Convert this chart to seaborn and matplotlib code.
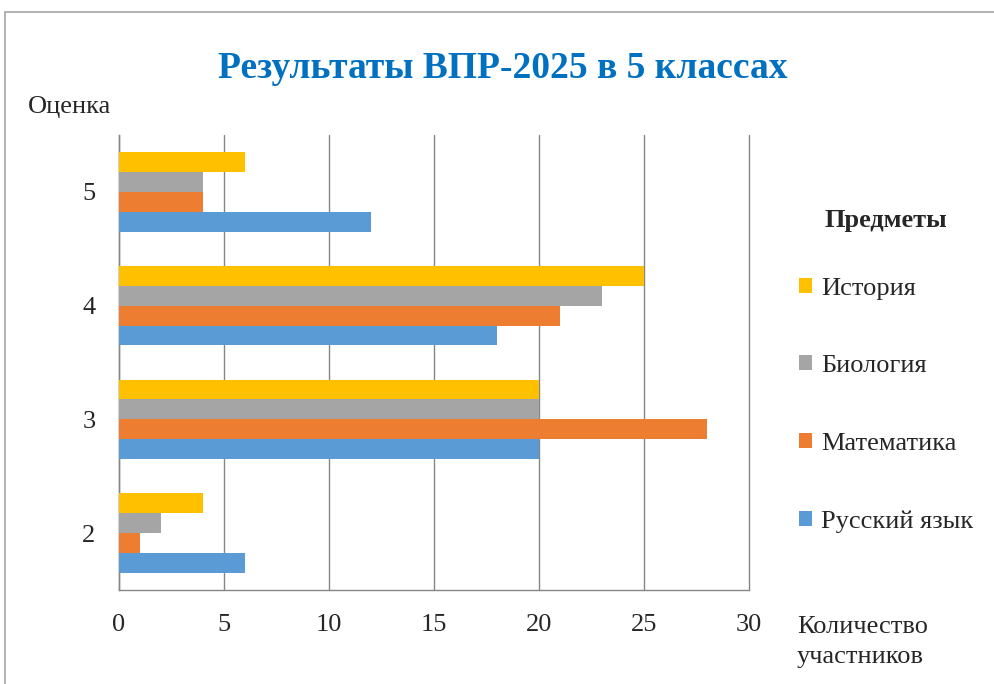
import matplotlib.pyplot as plt
import seaborn as sns
import pandas as pd
from matplotlib.patches import Rectangle, Patch

grades = ["5", "4", "3", "2"]
subjects = ["История", "Биология", "Математика", "Русский язык"]
history = [6, 25, 20, 4]
biology = [4, 23, 20, 2]
math = [4, 21, 28, 1]
russian = [12, 18, 20, 6]
colors = ["#FFC000", "#A5A5A5", "#ED7D31", "#5B9BD5"]

rows = []
for subj, vals in zip(subjects, [history, biology, math, russian]):
    for g, v in zip(grades, vals):
        rows.append({"grade": g, "subject": subj, "count": v})
df = pd.DataFrame(rows)

sns.set_style("white")
plt.rcParams["font.family"] = ["Liberation Serif", "DejaVu Serif"]

fig = plt.figure(figsize=(9.95, 6.84), dpi=100)
ax = fig.add_axes([119 / 995, 1 - 590 / 684, 630 / 995, 455 / 684])

sns.barplot(data=df, x="count", y="grade", hue="subject", order=grades,
            hue_order=subjects, palette=colors, orient="h", width=0.7,
            linewidth=0, saturation=1, legend=False, ax=ax, zorder=3)

ax.set_xlim(0, 30)
ax.set_xticks(range(0, 31, 5))
ax.xaxis.grid(True, color="#868686", linewidth=1, zorder=0)
for gl in ax.get_xgridlines():
    gl.set_clip_on(False)
ax.set_axisbelow(True)
ax.set_xlabel("")
ax.set_ylabel("")
ax.set_yticks([-0.5, 0.5, 1.5, 2.5, 3.5], minor=True)
ax.tick_params(axis="y", which="major", length=0, labelsize=19, pad=17)
ax.tick_params(axis="y", which="minor", length=8, color="#868686", width=1)
ax.tick_params(axis="x", length=5, color="#868686", width=1, labelsize=19, pad=12)
for side in ["top", "right"]:
    ax.spines[side].set_visible(False)
for side in ["left", "bottom"]:
    ax.spines[side].set_color("#868686")
    ax.spines[side].set_linewidth(1)

fig.text(503 / 995, 1 - 69 / 684, "Результаты ВПР-2025 в 5 классах", ha="center",
         va="center", fontsize=27, fontweight="bold", color="#0070C0")
fig.text(28 / 995, 1 - 107 / 684, "Оценка", ha="left", va="center", fontsize=19)
fig.text(797 / 995, 1 - 642 / 684, "Количество\nучастников", ha="left",
         va="center", fontsize=19, linespacing=1.45)

handles = [Patch(facecolor=c, edgecolor="none") for c in colors]
leg = fig.legend(handles, subjects, title="Предметы", loc="upper left",
                 bbox_to_anchor=(799 / 995, 1 - 209 / 684), frameon=False,
                 fontsize=19, title_fontproperties={"weight": "bold", "size": 19},
                 handlelength=0.5, handleheight=0.5, handletextpad=0.35,
                 labelspacing=2.1, borderaxespad=0, borderpad=0)
leg._legend_box.sep = 33

fig.patches.append(Rectangle((5 / 995, -0.1), 1.2, (1 - 12 / 684) + 0.1,
                             transform=fig.transFigure, fill=False,
                             edgecolor="#A6A6A6", linewidth=1.2))

fig.savefig("out.png", dpi=100)
